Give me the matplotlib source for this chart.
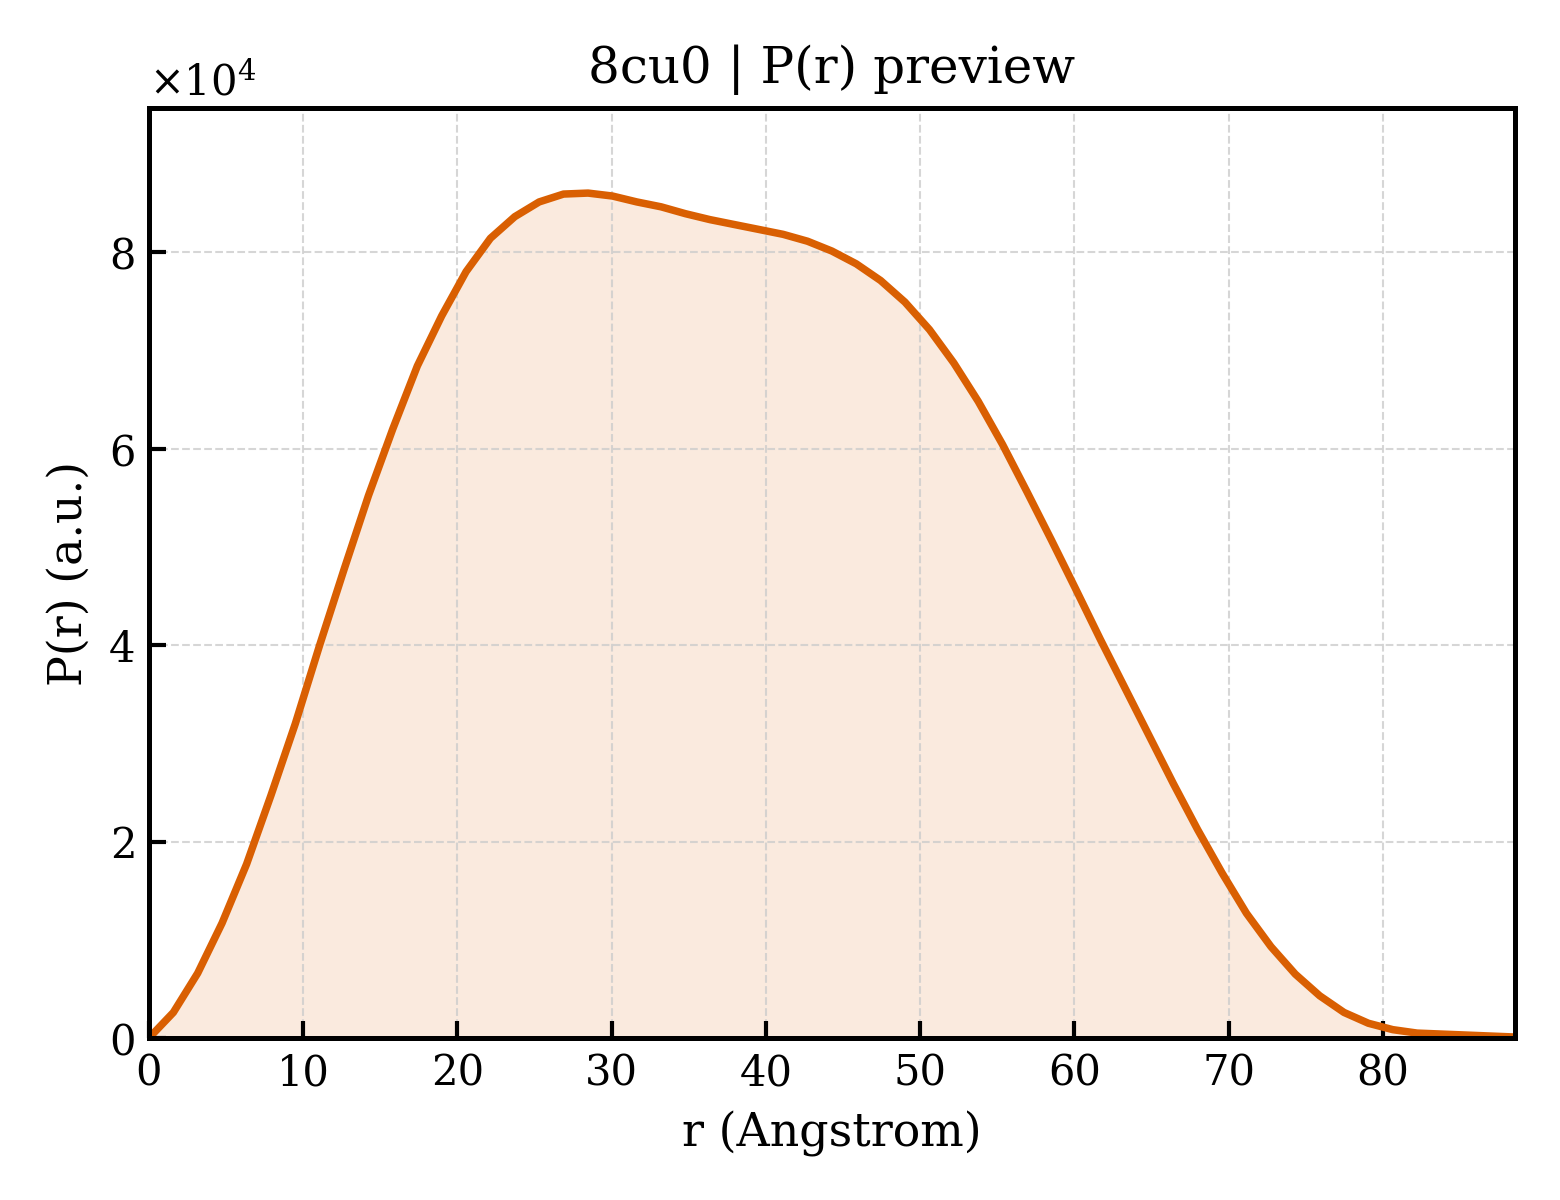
import numpy as np
import matplotlib
matplotlib.use("Agg")
from matplotlib import pyplot as plt

# P(r) values (r in Angstrom, P in units of 1e4)
r = [0.00, 1.58, 3.16, 4.74, 6.33, 7.91, 9.49, 11.07, 12.65, 14.23,
     15.81, 17.40, 18.98, 20.56, 22.14, 23.72, 25.30, 26.88, 28.47, 30.05,
     31.63, 33.21, 34.79, 36.37, 37.95, 39.54, 41.12, 42.70, 44.28, 45.86,
     47.44, 49.02, 50.61, 52.19, 53.77, 55.35, 56.93, 58.51, 60.09, 61.68,
     63.26, 64.84, 66.42, 68.00, 69.58, 71.16, 72.75, 74.33, 75.91, 77.49,
     79.07, 80.65, 82.23, 83.82, 85.40, 86.98, 88.56]
pr = [0.00, 0.26, 0.66, 1.17, 1.77, 2.47, 3.20, 4.00, 4.77, 5.52,
      6.20, 6.84, 7.35, 7.80, 8.14, 8.36, 8.51, 8.59, 8.60, 8.57,
      8.51, 8.46, 8.39, 8.33, 8.28, 8.23, 8.18, 8.11, 8.01, 7.88,
      7.71, 7.49, 7.21, 6.87, 6.48, 6.04, 5.56, 5.07, 4.57, 4.06,
      3.57, 3.08, 2.59, 2.12, 1.68, 1.27, 0.93, 0.65, 0.43, 0.26,
      0.15, 0.085, 0.05, 0.04, 0.03, 0.02, 0.01]

title = "8cu0 | P(r) preview"
col = "#D95F02"

plt.rcParams["font.family"] = ["DejaVu Serif"]
plt.rcParams["mathtext.fontset"] = "dejavuserif"

r = np.array(r)
pr = np.array(pr) * 1e4

fig, ax = plt.subplots(figsize=(5.2, 4), dpi=300)
fig.subplots_adjust(left=0.0955, right=0.971, top=0.91, bottom=0.135)

ax.fill_between(r, 0, pr, color=col, alpha=0.13, lw=0)
ax.plot(r, pr, color=col, lw=1.8)

ax.set_xlim(0, r[-1])
ax.set_ylim(0, 9.466e4)
ax.set_xticks(np.arange(0, 90, 10))
ax.set_yticks(np.arange(0, 9e4, 2e4))
ax.ticklabel_format(axis="y", style="sci", scilimits=(0, 0), useMathText=True)
ax.yaxis.get_offset_text().set_fontsize(10)

ax.grid(True, ls="--", lw=0.5, color="#cccccc", alpha=0.8)
ax.tick_params(direction="in", length=4, width=1, labelsize=10,
               top=False, right=False)
for s in ax.spines.values():
    s.set_linewidth(1.2)

ax.set_xlabel("r (Angstrom)", fontsize=11)
ax.set_ylabel("P(r) (a.u.)", fontsize=11)
ax.set_title(title, fontsize=12)

plt.savefig("out.png", dpi=300)
